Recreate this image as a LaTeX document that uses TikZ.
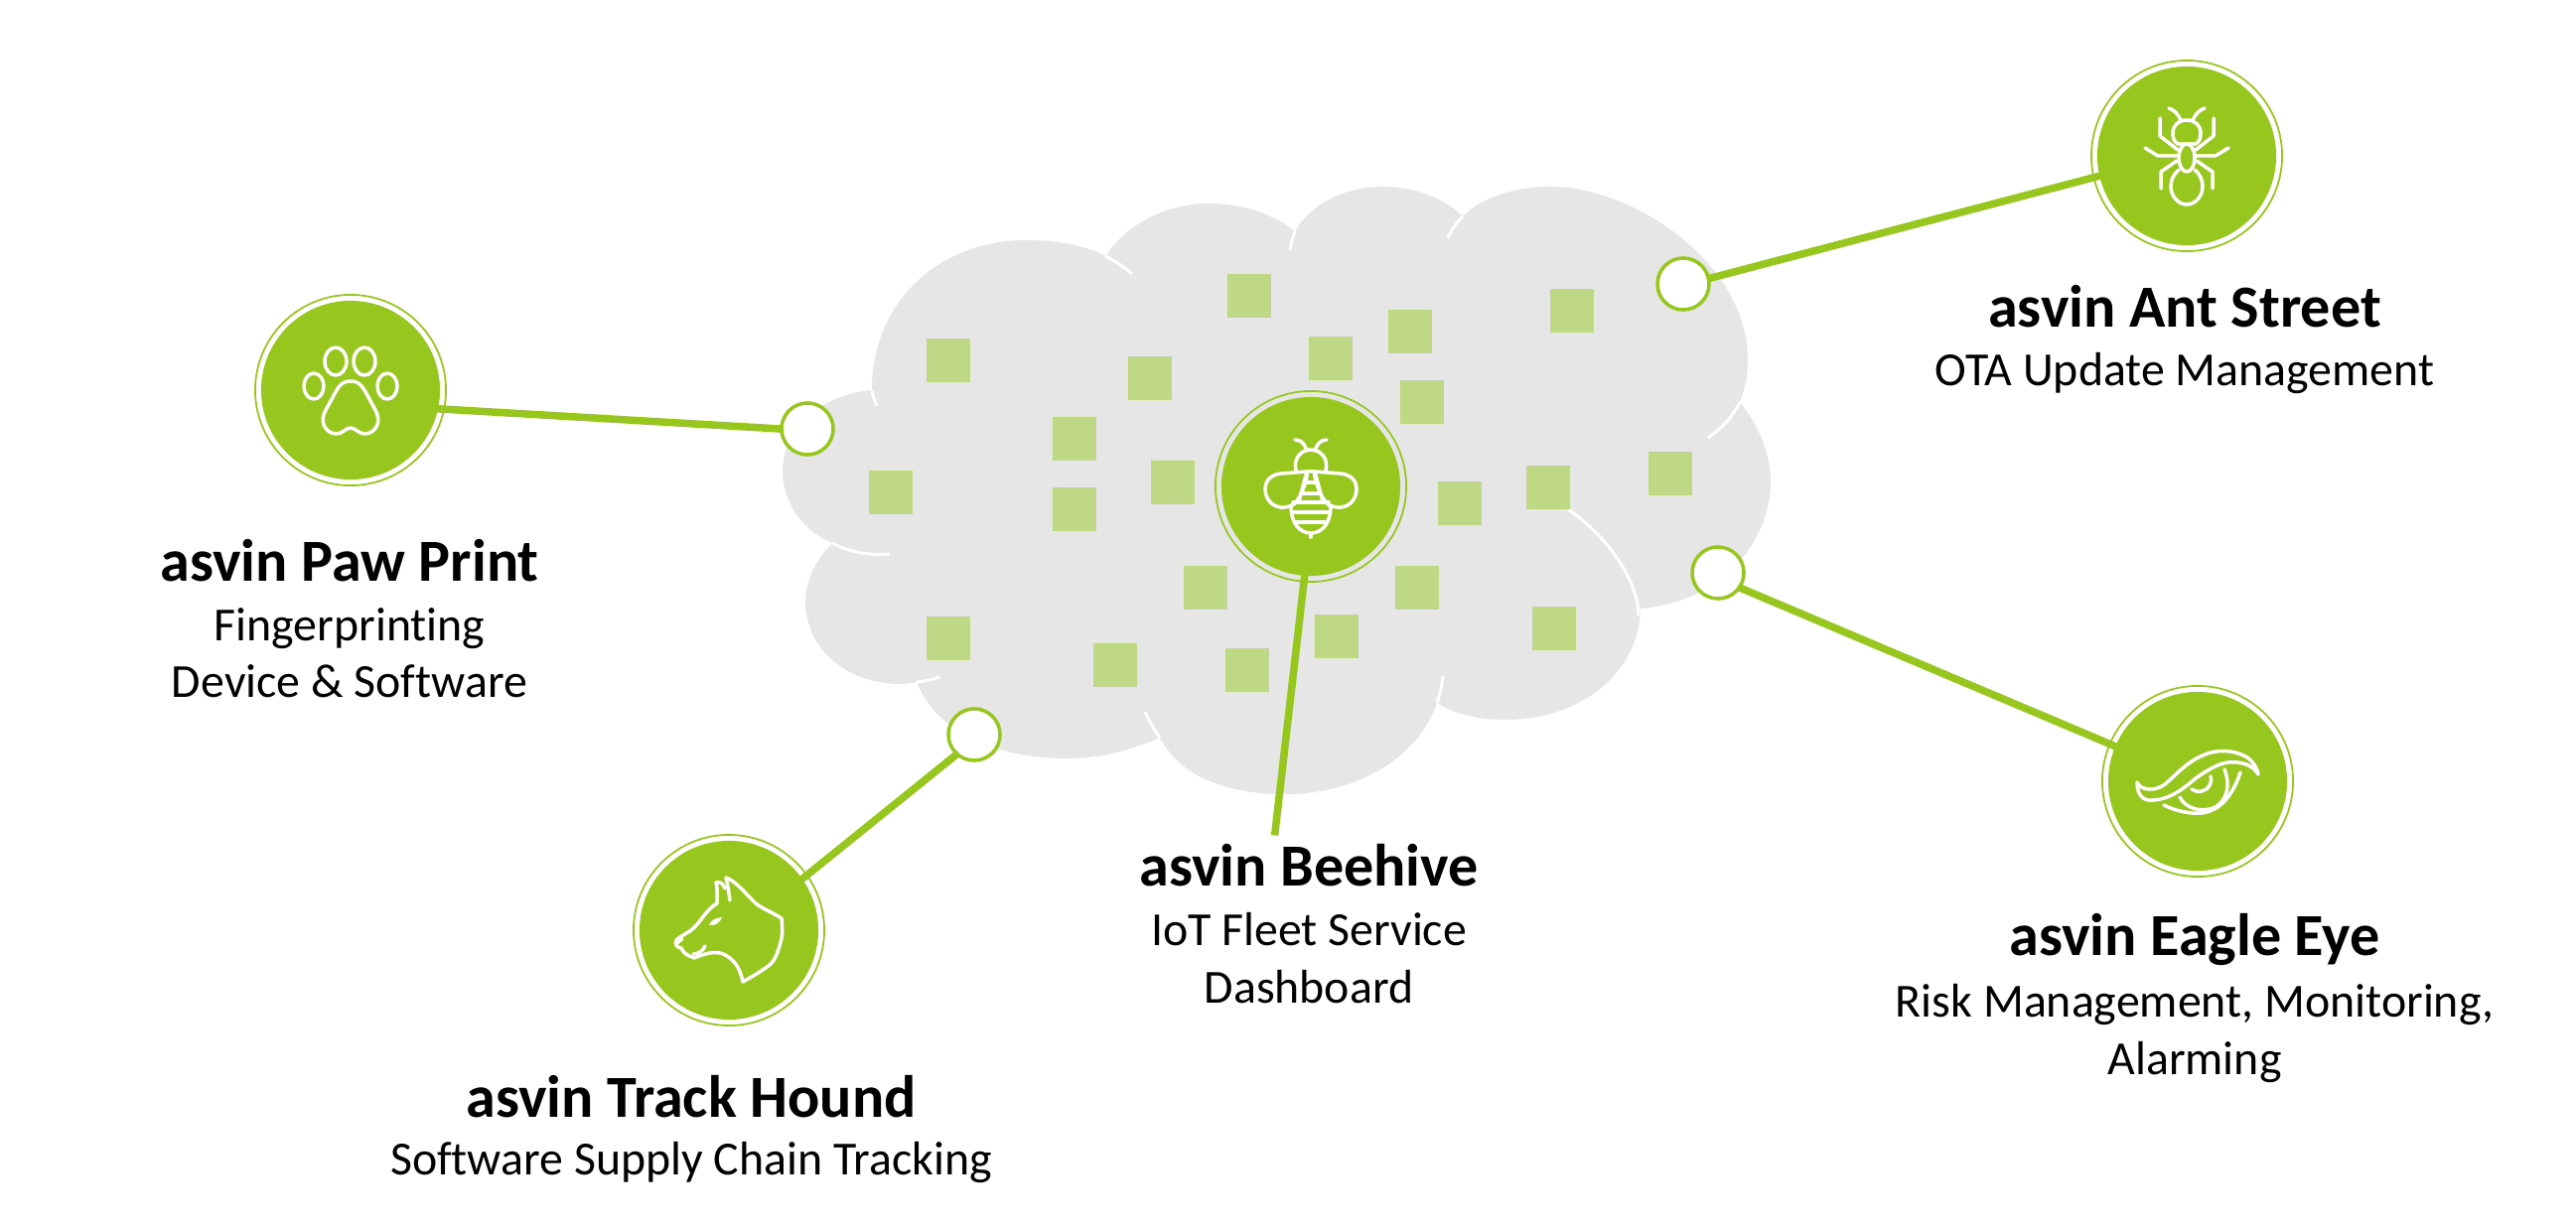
\documentclass[tikz,border=0pt]{standalone}
\usepackage{fontspec}
\setmainfont[Ligatures=NoCommon]{Carlito}
\definecolor{leaf}{HTML}{97C61F}
\definecolor{patch}{HTML}{BED885}
\definecolor{cloudgray}{HTML}{E6E6E6}
\tikzset{
  core/.style={circle, fill=leaf, inner sep=0pt, minimum size=1.8cm},
  halo/.style={circle, draw=leaf, line width=0.5pt, inner sep=0pt, minimum size=1.92cm},
  port/.style={circle, draw=leaf, fill=white, line width=1pt, inner sep=0pt, minimum size=0.52cm},
  link/.style={leaf, line width=0.075cm, shorten <=-1pt, shorten >=-1pt},
  patchbox/.style={fill=patch, inner sep=0pt, minimum size=0.44cm},
  seam/.style={white, line width=0.03cm},
  icon/.style={white, line width=0.035cm, line cap=round, line join=round},
  heading/.style={font=\fontsize{17.1}{20}\selectfont\bfseries},
  subtext/.style={font=\fontsize{13.6}{16.3}\selectfont, align=center}
}
\begin{document}
\begin{tikzpicture}[x=0.01cm, y=-0.01cm]
    \useasboundingbox (0,0) rectangle (2594,1237);

    % cloud
    \fill[cloudgray] (878,393)
        .. controls (878,300) and (950,242) .. (1032,242)
        .. controls (1065,242) and (1092,247) .. (1113,258)
        .. controls (1135,225) and (1175,205) .. (1218,205)
        .. controls (1255,205) and (1285,218) .. (1304,233)
        .. controls (1320,205) and (1355,188) .. (1393,188)
        .. controls (1425,188) and (1455,200) .. (1473,218)
        .. controls (1490,200) and (1525,188) .. (1561,188)
        .. controls (1645,188) and (1760,265) .. (1760,363)
        .. controls (1760,380) and (1757,392) .. (1752,405)
        .. controls (1772,430) and (1783,458) .. (1783,486)
        .. controls (1783,540) and (1740,605) .. (1652,613)
        .. controls (1650,680) and (1590,725) .. (1516,725)
        .. controls (1490,725) and (1465,720) .. (1447,708)
        .. controls (1430,760) and (1370,800) .. (1294,800)
        .. controls (1240,800) and (1190,785) .. (1168,743)
        .. controls (1140,755) and (1110,764) .. (1075,764)
        .. controls (1005,764) and (945,740) .. (923,687)
        .. controls (915,689) and (910,689) .. (906,689)
        .. controls (855,689) and (811,655) .. (811,606)
        .. controls (811,585) and (822,563) .. (838,547)
        .. controls (808,535) and (788,505) .. (788,475)
        .. controls (788,432) and (825,398) .. (878,393) -- cycle;

    % seams inside the cloud
    \draw[seam] (878,393) .. controls (879,399) and (881,404) .. (883,409);
    \draw[seam] (1113,258) .. controls (1123,263) and (1132,269) .. (1140,276);
    \draw[seam] (1304,233) .. controls (1302,239) and (1300,245) .. (1299,252);
    \draw[seam] (1473,218) .. controls (1466,225) and (1461,232) .. (1458,240);
    \draw[seam] (1752,405) .. controls (1745,420) and (1733,432) .. (1720,441);
    \draw[seam] (1579,513) .. controls (1625,545) and (1650,590) .. (1650,620);
    \draw[seam] (1447,708) .. controls (1450,700) and (1452,690) .. (1453,681);
    \draw[seam] (1168,743) .. controls (1162,735) and (1157,726) .. (1153,717);
    \draw[seam] (923,687) .. controls (931,686) and (939,685) .. (946,682);
    \draw[seam] (838,547) .. controls (855,556) and (875,560) .. (896,558);

    % devices
    \foreach \x/\y [count=\i] in {1258/298, 1420/334, 1340/361, 1583/313, 955/363, 1158/381, 1432/405,
        1082/442, 1181/486, 1082/513, 897/496, 1470/507, 1559/491, 1682/477, 1214/592, 1427/592,
        1346/641, 1565/633, 955/643, 1123/670, 1256/675}
        \node[patchbox] (patch\i) at (\x,\y) {};

    % big circles
    \node[core] (pawcore) at (353,393) {};
    \node[halo] (pawhalo) at (pawcore) {};
    \node[core] (antcore) at (2202,157) {};
    \node[halo] (anthalo) at (antcore) {};
    \node[core] (beecore) at (1320,490) {};
    \node[halo] (beehalo) at (beecore) {};
    \node[core] (eyecore) at (2213,787) {};
    \node[halo] (eyehalo) at (eyecore) {};
    \node[core] (houndcore) at (734,937) {};
    \node[halo] (houndhalo) at (houndcore) {};

    % small circles
    \node[port] (pawport) at (813,432) {};
    \node[port] (antport) at (1695,286) {};
    \node[port] (eyeport) at (1730,577) {};
    \node[port] (houndport) at (981,740) {};
    \coordinate (beeend) at (1284,838);

    % connectors
    \draw[link] (pawcore.-12) -- (pawport.180);
    \draw[link] (antcore.193) -- (antport.12);
    \draw[link] (eyecore.157) -- (eyeport.-34);
    \draw[link] (houndcore.35) -- (houndport.228);
    \draw[link] (beecore.-94) -- (beeend);

    % paw
    \begin{scope}[shift={(pawcore.center)}, icon]
        \draw (-37,-4) ellipse (10 and 13);
        \draw (-15,-29) ellipse (11 and 14);
        \draw (14,-29) ellipse (11 and 14);
        \draw (37,-4) ellipse (10 and 13);
        \draw (0,-9) .. controls (8,-9) and (11,-5) .. (14,0)
            -- (25,20) .. controls (32,32) and (25,44) .. (14,44)
            .. controls (8,44) and (5,38) .. (0,38)
            .. controls (-5,38) and (-8,44) .. (-14,44)
            .. controls (-25,44) and (-32,32) .. (-25,20)
            -- (-14,0) .. controls (-11,-5) and (-8,-9) .. (0,-9) -- cycle;
    \end{scope}

    % ant
    \begin{scope}[shift={(antcore.center)}, icon]
        \draw (-9,-12) .. controls (-14,-15) and (-14,-20) .. (-14,-23)
            .. controls (-14,-31) and (-8,-36) .. (0,-36)
            .. controls (8,-36) and (14,-31) .. (14,-23)
            .. controls (14,-20) and (14,-15) .. (9,-12) -- cycle;
        \draw (0,2) ellipse (8 and 14);
        \draw (-8,14) .. controls (-13,18) and (-16,24) .. (-16,31)
            .. controls (-16,40) and (-9,49) .. (0,49)
            .. controls (9,49) and (16,40) .. (16,31)
            .. controls (16,24) and (13,18) .. (8,14);
        \foreach \s in {-1,1} {
            \draw (\s*18,-48) .. controls (\s*12,-46) and (\s*9,-42) .. (\s*6,-36);
            \draw (\s*27,-38) -- (\s*27,-20) -- (\s*9,-6);
            \draw (\s*42,-8) -- (\s*29,0) -- (\s*10,0);
            \draw (\s*10,5) -- (\s*26,16) -- (\s*26,33);
        }
    \end{scope}

    % bee
    \begin{scope}[shift={(beecore.center)}, icon]
        \draw (-15,-16) .. controls (-18,-28) and (-10,-37) .. (0,-37)
            .. controls (10,-37) and (18,-28) .. (15,-16);
        \foreach \s in {-1,1} {
            \draw (\s*16,-47) .. controls (\s*9,-47) and (\s*6,-42) .. (\s*4,-36);
            \draw (\s*4,-15) .. controls (\s*2,-8) and (\s*13,18) .. (\s*19,19)
                .. controls (\s*36,26) and (\s*46,14) .. (\s*46,3)
                .. controls (\s*46,-8) and (\s*38,-12) .. (\s*30,-13) -- (\s*4,-15) -- cycle;
        }
        \draw (-4,-15) -- (-12,15) (4,-15) -- (12,15) (-4,-15) -- (4,-15);
        \draw (-6,-4) -- (6,-4) (-10,7) -- (10,7) (-18,16) -- (18,16)
            (-19,26) -- (19,26) (-15,36) -- (15,36);
        \draw (-20,20) .. controls (-20,36) and (-12,47) .. (0,47)
            .. controls (12,47) and (20,36) .. (20,20);
        \draw (0,47) -- (0,51);
    \end{scope}

    % hound
    \begin{scope}[shift={(houndcore.center)}, icon]
        \draw plot[smooth, tension=0.5] coordinates {(14,52) (43,33) (53,8) (53,-12)};
        \draw (53,-12) .. controls (40,-20) and (30,-23) .. (24,-30)
            .. controls (16,-38) and (6,-50) .. (-3,-53)
            .. controls (-1,-45) and (0,-38) .. (1,-30);
        \draw (-4,-42) .. controls (-6,-48) and (-10,-49) .. (-13,-48)
            .. controls (-11,-40) and (-12,-33) .. (-12,-27)
            .. controls (-24,-20) and (-28,-8) .. (-38,0)
            .. controls (-44,4) and (-50,7) .. (-53,10)
            .. controls (-55,14) and (-52,18) .. (-48,18)
            .. controls (-46,24) and (-40,26) .. (-35,28)
            .. controls (-25,24) and (-12,19) .. (-2,26)
            .. controls (8,32) and (12,42) .. (14,52);
        \draw (-36,24) .. controls (-30,24) and (-26,20) .. (-24,16);
        \draw (-52,13) .. controls (-50,10) and (-48,10) .. (-47,9);
        \fill[white] (-20,-5) .. controls (-18,-11) and (-13,-12) .. (-7,-13)
            .. controls (-9,-8) and (-13,-4) .. (-20,-5) -- cycle;
    \end{scope}

    % eye
    \begin{scope}[shift={(eyecore.center)}, icon]
        \draw (-61,1) .. controls (-57,10) and (-42,10) .. (-33,3)
            .. controls (-20,-8) and (-10,-21) .. (10,-28)
            .. controls (25,-33) and (40,-30) .. (50,-24)
            .. controls (56,-20) and (60,-13) .. (61,-7)
            .. controls (55,-17) and (44,-20) .. (31,-19)
            .. controls (20,-18) and (8,-10) .. (-2,-3)
            .. controls (-15,8) and (-30,20) .. (-49,19)
            .. controls (-58,18) and (-61,10) .. (-61,1) -- cycle;
        \draw (-34,24) .. controls (-22,30) and (-8,33) .. (4,32)
            .. controls (22,30) and (35,15) .. (43,-9);
        \draw (27,-12) .. controls (33,4) and (30,18) .. (18,26)
            .. controls (5,32) and (-12,28) .. (-18,16);
        \draw (-6,8) .. controls (0,12) and (8,11) .. (12,4)
            .. controls (14,0) and (14,-3) .. (13,-5);
    \end{scope}

    % labels
    \node[heading] (pawtitle) at (352,565) {asvin Paw Print};
    \node[subtext] (pawtext) at (352,658) {Fingerprinting\\Device \& Software};
    \node[heading] (anttitle) at (2200,309) {asvin Ant Street};
    \node[subtext] (anttext) at (2200,376) {OTA Update Management};
    \node[heading] (beetitle) at (1318,872) {asvin Beehive};
    \node[subtext] (beetext) at (1318,965) {IoT Fleet Service\\Dashboard};
    \node[heading] (eyetitle) at (2210,946) {asvin Eagle Eye};
    \node[subtext] (eyetext) at (2210,1041) {Risk Management, Monitoring,\\Alarming};
    \node[heading] (houndtitle) at (696,1105) {asvin Track Hound};
    \node[subtext] (houndtext) at (696,1171) {Software Supply Chain Tracking};
\end{tikzpicture}
\end{document}
